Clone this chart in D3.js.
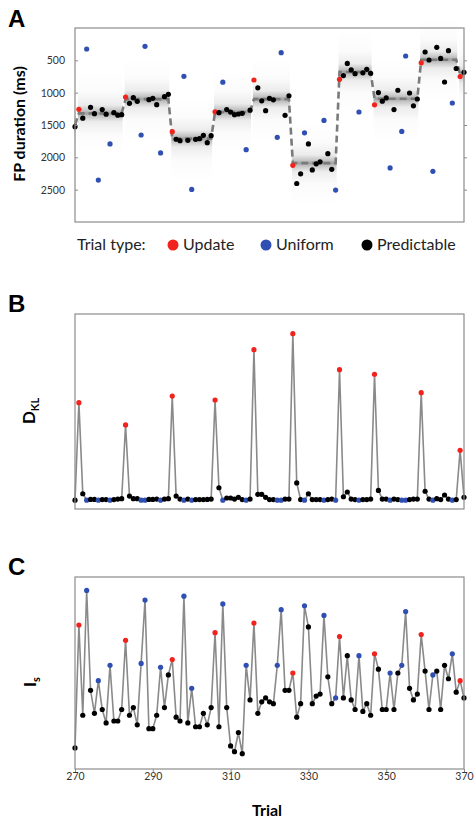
<!DOCTYPE html>
<html>
<head>
<meta charset="utf-8">
<script src="https://cdn.jsdelivr.net/npm/d3@7"></script>
<style>
  body { margin: 0; background: #ffffff; }
  svg { display: block; font-family: Lato, 'Open Sans', sans-serif; }
</style>
</head>
<body>
<div id="chart"></div>
<script>
// Trials shown on the x axis.
const firstTrial = 270;
const lastTrial = 370;
const trialTicks = [270, 290, 310, 330, 350, 370];
const fpTicks = [500, 1000, 1500, 2000, 2500];

// Trial types.
const updateTrials = [271, 283, 295, 306, 316, 326, 338, 347, 359, 369];
const uniformTrials = [273, 276, 279, 287, 288, 292, 298, 300, 308, 314, 322, 323,
                       329, 334, 337, 343, 351, 354, 355, 362, 367];

// FP duration (ms), one per trial 270..370.
const fpDuration = [
  1526, 1257, 1395, 325, 1227, 1325, 2352, 1262, 1332, 1793,
  1309, 1348, 1340, 1067, 1165, 1077, 1134, 1655, 283, 1108,
  1088, 1185, 1932, 1062, 1026, 1603, 1720, 1742, 747, 1737,
  2497, 1722, 1711, 1660, 1773, 1665, 1296, 1309, 838, 1262,
  1300, 1340, 1330, 1320, 1881, 1270, 804, 925, 1126, 1278,
  1088, 1110, 1690, 381, 1350, 1048, 2123, 2405, 2255, 1621,
  1793, 2195, 2100, 2070, 1430, 1943, 2185, 2507, 793, 735,
  548, 649, 706, 1299, 693, 639, 700, 1188, 998, 1131,
  1082, 2164, 1262, 963, 1600, 433, 1005, 1204, 1098, 538,
  371, 495, 2216, 299, 470, 835, 351, 1160, 626, 750,
  685
];

// Block means (ms) for the dashed line, each block starting at the given trial.
const blockStarts = [270, 271, 283, 295, 306, 316, 326, 338, 347, 359, 369];
const blockMeans = [1500, 1320, 1100, 1710, 1300, 1100, 2090, 680, 1095, 490, 720];

// KL divergence, one per trial.
const dkl = [
  0, 0.55, 0.036, 0, 0.004, 0.004, 0, 0.003, 0.003, 0,
  0.003, 0.006, 0.008, 0.424, 0.023, 0.008, 0.008, 0, 0, 0.004,
  0.004, 0.006, 0, 0.006, 0.008, 0.587, 0.023, 0.006, 0, 0.006,
  0, 0.003, 0.003, 0.003, 0.004, 0.006, 0.565, 0.07, 0, 0.012,
  0.012, 0.006, 0.016, 0.003, 0, 0.006, 0.849, 0.033, 0.033, 0.016,
  0.003, 0.003, 0, 0, 0.006, 0.006, 0.939, 0.097, 0.003, 0,
  0.036, 0.003, 0.003, 0.003, 0, 0.003, 0.006, 0, 0.736, 0.019,
  0.046, 0.006, 0.003, 0, 0.003, 0.003, 0.006, 0.71, 0.055, 0.006,
  0.006, 0, 0.006, 0.003, 0, 0, 0.003, 0.006, 0.006, 0.606,
  0.05, 0.006, 0, 0.008, 0.003, 0.029, 0.006, 0, 0.003, 0.281,
  0.016
];

// Surprise I_s, one per trial.
const surprise = [
  11, 75, 28, 93, 41, 29, 46, 31, 24, 54,
  25, 25, 31, 67, 28, 32, 23, 55, 88, 21,
  21, 28, 53, 32, 49, 57, 27, 25, 90, 24,
  42, 22, 22, 29, 23, 32, 71, 22, 86, 32,
  12, 9, 19, 8, 54, 36, 76, 29, 35, 37,
  35, 34, 54, 83, 41, 41, 50, 27, 34, 85,
  74, 34, 38, 39, 80, 48, 34, 37, 69, 37,
  59, 36, 31, 59, 30, 34, 28, 60, 52, 31,
  31, 50, 31, 50, 54, 82, 42, 36, 39, 70,
  51, 31, 49, 51, 31, 54, 47, 60, 40, 46,
  37
];

const colors = {update: '#f2221c', uniform: '#2f4fb2', predictable: '#000000'};

const trials = d3.range(firstTrial, lastTrial + 1).map((t, i) => ({
  trial: t,
  type: updateTrials.includes(t) ? 'update' : (uniformTrials.includes(t) ? 'uniform' : 'predictable'),
  fp: fpDuration[i],
  dkl: dkl[i],
  is: surprise[i],
}));

const blocks = blockStarts.map((s, i) => ({
  start: s,
  end: i < blockStarts.length - 1 ? blockStarts[i + 1] - 1 : lastTrial,
  mean: blockMeans[i],
}));

// Canvas.
const width = 474;
const height = 820;
const svg = d3.select('#chart')
      .append('svg')
      .attr('width', width)
      .attr('height', height);

const defs = svg.append('defs');
const grad = defs.append('linearGradient')
      .attr('id', 'band')
      .attr('x1', 0).attr('y1', 0).attr('x2', 0).attr('y2', 1);
[[0, 0], [0.25, 0.02], [0.4, 0.1], [0.47, 0.32], [0.5, 0.5],
 [0.53, 0.32], [0.6, 0.1], [0.75, 0.02], [1, 0]].forEach(([o, a]) => {
  grad.append('stop').attr('offset', o).attr('stop-color', '#404040').attr('stop-opacity', a);
});

const x = d3.scaleLinear().domain([firstTrial, lastTrial]).range([75, 464]);

const panels = {
  a: {top: 28, bottom: 222},
  b: {top: 314, bottom: 509},
  c: {top: 577, bottom: 769},
};

function box(p) {
  svg.append('rect')
    .attr('x', 75)
    .attr('y', p.top)
    .attr('width', 464 - 75)
    .attr('height', p.bottom - p.top)
    .attr('fill', 'none')
    .attr('stroke', '#8c8c8c')
    .attr('stroke-width', 1.2);
}

function letter(txt, y) {
  svg.append('text')
    .attr('x', 8)
    .attr('y', y)
    .attr('font-family', "'Liberation Sans', Arial, sans-serif")
    .attr('font-weight', 'bold')
    .attr('font-size', 24)
    .text(txt);
}

function dots(g, yAcc) {
  g.selectAll('circle')
    .data(trials)
    .join('circle')
    .attr('cx', (d) => x(d.trial))
    .attr('cy', yAcc)
    .attr('r', 2.6)
    .attr('fill', (d) => colors[d.type]);
}

// Panel A.
const yA = d3.scaleLinear().domain([0, 3000]).range([panels.a.top, panels.a.bottom]);
const gA = svg.append('g');

gA.selectAll('rect.band')
  .data(blocks)
  .join('rect')
  .attr('class', 'band')
  .attr('x', (d) => x(d.start) - 1)
  .attr('width', (d) => x(d.end) - x(d.start) + 2)
  .attr('y', (d) => yA(d.mean - 650))
  .attr('height', (d) => yA(d.mean + 650) - yA(d.mean - 650))
  .attr('fill', 'url(#band)');

const meanPts = [];
blocks.forEach((b) => {
  meanPts.push([x(b.start), yA(b.mean)]);
  meanPts.push([x(b.end), yA(b.mean)]);
});
gA.append('path')
  .attr('d', d3.line()(meanPts))
  .attr('fill', 'none')
  .attr('stroke', '#7a7a7a')
  .attr('stroke-width', 2.6)
  .attr('stroke-dasharray', '7,4');

dots(gA.append('g'), (d) => yA(d.fp));
box(panels.a);

svg.append('g')
  .attr('transform', 'translate(75,0)')
  .call(d3.axisLeft(yA).tickValues(fpTicks).tickSize(-3).tickPadding(10).tickFormat(d3.format('d')))
  .call((g) => g.select('.domain').remove())
  .call((g) => g.selectAll('line').attr('stroke', '#8c8c8c'))
  .call((g) => g.selectAll('text').attr('font-size', 10.5).attr('fill', '#333').attr('font-family', 'Lato, sans-serif'));
svg.append('g')
  .attr('transform', 'translate(464,0)')
  .call(d3.axisRight(yA).tickValues(fpTicks).tickSize(3).tickFormat(''))
  .call((g) => g.select('.domain').remove())
  .call((g) => g.selectAll('line').attr('stroke', '#8c8c8c'));

svg.append('text')
  .attr('transform', 'translate(25,124) rotate(-90)')
  .attr('text-anchor', 'middle')
  .attr('font-weight', 'bold')
  .attr('font-size', 16)
  .text('FP duration (ms)');

letter('A', 27);

// Legend.
const legend = svg.append('g').attr('font-size', 16).attr('fill', '#222');
legend.append('text').attr('x', 77).attr('y', 250).text('Trial type:');
const legendItems = [
  {label: 'Update', type: 'update', cx: 173},
  {label: 'Uniform', type: 'uniform', cx: 266},
  {label: 'Predictable', type: 'predictable', cx: 367},
];
legendItems.forEach((it) => {
  legend.append('circle').attr('cx', it.cx).attr('cy', 245).attr('r', 5.5).attr('fill', colors[it.type]);
  legend.append('text').attr('x', it.cx + 10).attr('y', 250).text(it.label);
});

// Panel B.
const yB = d3.scaleLinear().domain([-0.05, 1.05]).range([panels.b.bottom, panels.b.top]);
const gB = svg.append('g');
gB.append('path')
  .datum(trials)
  .attr('d', d3.line().x((d) => x(d.trial)).y((d) => yB(d.dkl)))
  .attr('fill', 'none')
  .attr('stroke', '#8a8a8a')
  .attr('stroke-width', 1.6);
dots(gB.append('g'), (d) => yB(d.dkl));
box(panels.b);

const labB = svg.append('text')
  .attr('transform', 'translate(35,411) rotate(-90)')
  .attr('text-anchor', 'middle')
  .attr('font-weight', 'bold')
  .attr('font-size', 17);
labB.append('tspan').text('D');
labB.append('tspan').attr('dy', 4).attr('font-size', 11).text('KL');

letter('B', 312);

// Panel C.
const yC = d3.scaleLinear().domain([0, 100]).range([panels.c.bottom, panels.c.top]);
const gC = svg.append('g');
gC.append('path')
  .datum(trials)
  .attr('d', d3.line().x((d) => x(d.trial)).y((d) => yC(d.is)))
  .attr('fill', 'none')
  .attr('stroke', '#8a8a8a')
  .attr('stroke-width', 1.6);
dots(gC.append('g'), (d) => yC(d.is));
box(panels.c);

svg.append('g')
  .attr('transform', `translate(0,${panels.c.bottom})`)
  .call(d3.axisBottom(x).tickValues(trialTicks).tickSize(3).tickPadding(1).tickFormat(d3.format('d')))
  .call((g) => g.select('.domain').remove())
  .call((g) => g.selectAll('line').attr('stroke', '#8c8c8c'))
  .call((g) => g.selectAll('text').attr('font-size', 10.5).attr('fill', '#333').attr('font-family', 'Lato, sans-serif'));

const labC = svg.append('text')
  .attr('transform', 'translate(36,682) rotate(-90)')
  .attr('text-anchor', 'middle')
  .attr('font-weight', 'bold')
  .attr('font-size', 17);
labC.append('tspan').text('I');
labC.append('tspan').attr('dy', 4).attr('font-size', 11).text('s');

svg.append('text')
  .attr('x', 267)
  .attr('y', 816)
  .attr('text-anchor', 'middle')
  .attr('font-weight', 'bold')
  .attr('font-size', 16)
  .text('Trial');

letter('C', 575);
</script>
</body>
</html>
